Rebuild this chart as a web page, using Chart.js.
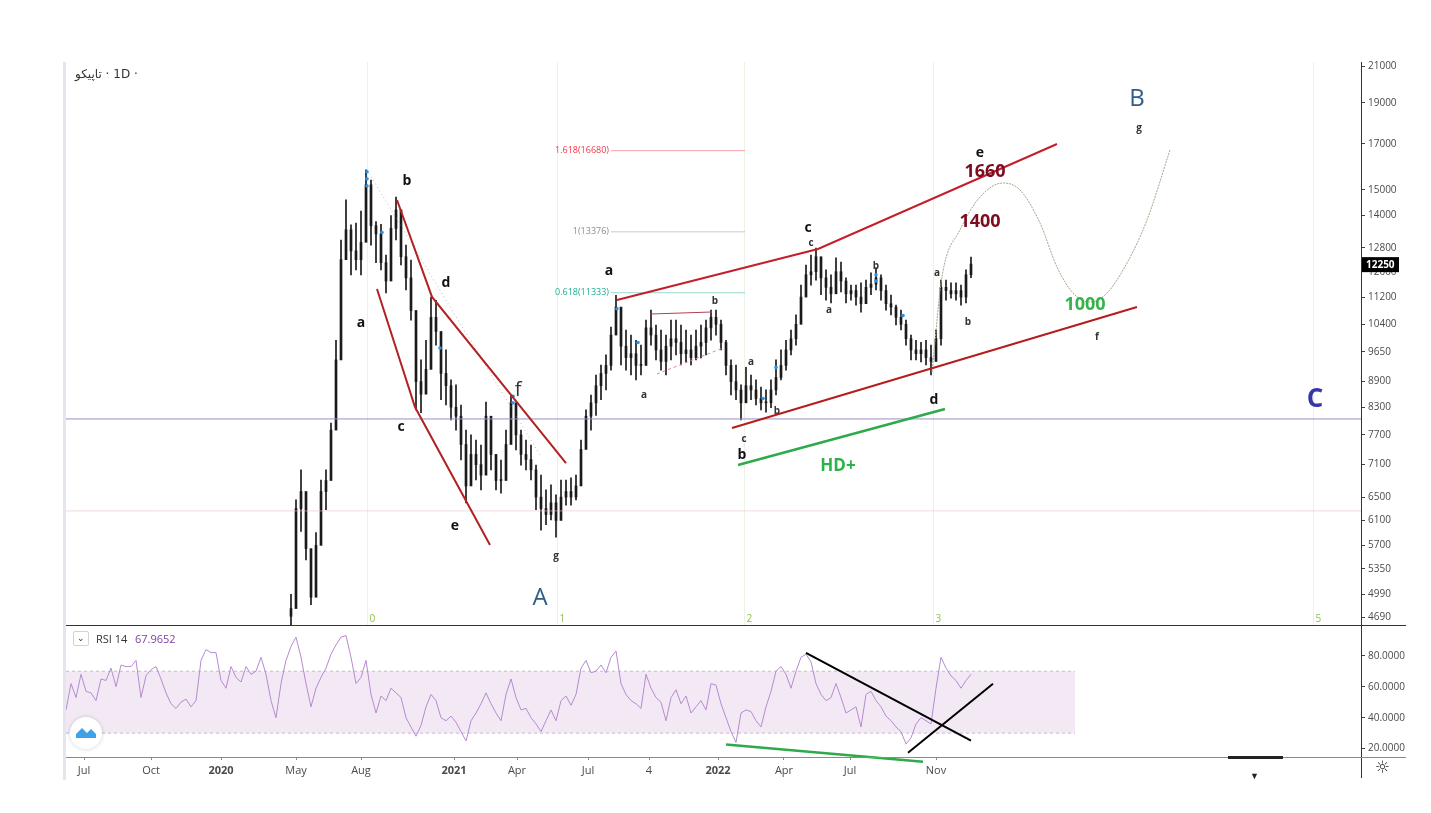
<!DOCTYPE html>
<html>
<head>
<meta charset="utf-8">
<script src="https://cdn.jsdelivr.net/npm/chart.js@4.4.1/dist/chart.umd.min.js"></script>
<style>
body { margin:0; background:#fff; width:1431px; height:813px; overflow:hidden; position:relative; font-family:"Open Sans", sans-serif; }
canvas { position:absolute; left:0; }
#main { top:0; }
#rsi { top:610px; }
.bar { position:absolute; }
.txt { position:absolute; white-space:nowrap; }
</style>
</head>
<body>
<canvas id="main" width="1431" height="640"></canvas>
<canvas id="rsi" width="1431" height="203"></canvas>

<div class="bar" style="left:63px;top:62px;width:3px;height:718px;background:#e3e6ec"></div>
<div class="bar" style="left:1361px;top:62px;width:1px;height:716px;background:#333"></div>
<div class="bar" style="left:66px;top:625px;width:1340px;height:1px;background:#333"></div>
<div class="bar" style="left:66px;top:757px;width:1340px;height:1px;background:#8a8a8a"></div>
<div class="bar" style="left:1228px;top:756px;width:55px;height:3px;background:#222"></div>
<div class="txt" style="left:1250px;top:769px;font-size:9px;color:#222">&#9660;</div>
<div class="txt" style="left:1375px;top:757px;font-size:17px;color:#333;font-family:'DejaVu Sans'">&#9788;</div>
<div class="txt" dir="ltr" style="left:75px;top:67px;font-size:12px;color:#333;font-family:'DejaVu Sans'"><bdi>تاپیکو</bdi>&lrm; · 1D ·</div>
<div class="txt" style="left:73px;top:631px;width:14px;height:13px;border:1px solid #d0d3da;border-radius:2px;font-size:9px;line-height:12px;text-align:center;color:#333">&#8964;</div>
<div class="txt" style="left:96px;top:631px;font-size:11px;color:#333">RSI 14</div>
<div class="txt" style="left:135px;top:631px;font-size:11px;color:#7b3fa0">67.9652</div>

<script>
// price axis ticks and time axis
var priceTicks = [4690, 4990, 5350, 5700, 6100, 6500, 7100, 7700, 8300, 8900, 9650, 10400, 11200, 12000, 12800, 14000, 15000, 17000, 19000, 21000];
var rsiTicks = [20, 40, 60, 80];
var timeTickSlots = [3.6, 17, 31, 46, 59, 77.6, 90.2, 104.4, 116.6, 130.4, 143.6, 156.8, 174];
var timeTickLabels = ['Jul', 'Oct', '2020', 'May', 'Aug', '2021', 'Apr', 'Jul', '4', '2022', 'Apr', 'Jul', 'Nov'];

// candles, one per slot starting at firstSlot
var firstSlot = 45;
var firstOpen = 4700;
var closes = [4800, 6300, 6600, 5650, 4950, 5700, 6600, 6800, 7800, 9440,
  12400, 13450, 12700, 12400, 13000, 15200, 13600, 13300, 12300, 11700,
  13500, 14200, 12500, 11800, 10800, 8900, 8600, 9200, 10600, 10200,
  9100, 8800, 8300, 8100, 7500, 6700, 7300, 7100, 6900, 8100,
  7300, 6800, 6800, 7500, 8400, 7700, 7300, 7200, 7000, 6500,
  6300, 6200, 6400, 6100, 6500, 6600, 6500, 6700, 7400, 8100,
  8400, 8800, 9100, 9300, 10100, 10900, 9800, 9500, 9600, 9300,
  9300, 10300, 10100, 9700, 9400, 9800, 10000, 9900, 9600, 9700,
  9500, 9800, 9900, 10300, 10600, 10400, 9900, 9300, 8900, 8700,
  8400, 8800, 8700, 8500, 8400, 8400, 8700, 9000, 9300, 9700,
  10000, 10400, 11200, 11900, 12000, 12500, 11800, 11500, 11300, 12000,
  11700, 11300, 11400, 11200, 11000, 11500, 11600, 11800, 11400, 11000,
  10900, 10600, 10400, 10000, 9700, 9600, 9700, 9500, 9400, 10000,
  11500, 11400, 11300, 11400, 11200, 11900, 12250];
var highs = [4990, 6450, 7000, 5870, 5250, 5900, 6810, 7000, 7950, 9960,
  13080, 14590, 13630, 13700, 14150, 15830, 15400, 13750, 13650, 12560,
  13980, 14700, 14150, 12900, 12390, 10240, 9440, 9960, 11200, 11100,
  9830, 9700, 8940, 8820, 8350, 7800, 7700, 7590, 7490, 8420,
  7800, 7290, 7190, 7800, 8560, 8240, 7800, 7590, 7490, 7090,
  6900, 6630, 6720, 6540, 6810, 6810, 6850, 6900, 7590, 8240,
  8580, 9060, 9310, 9570, 10320, 11250, 10520, 10240, 10100, 9960,
  9830, 10520, 10810, 10380, 10240, 10100, 10520, 10520, 10380, 10240,
  10100, 10240, 10380, 10520, 10810, 10810, 10520, 9960, 9440, 9310,
  8820, 9250, 9060, 8940, 8770, 8700, 8940, 9440, 9700, 9960,
  10240, 10670, 11570, 12220, 12560, 12800, 12320, 12060, 11900, 12460,
  12320, 11800, 11570, 11570, 11640, 11730, 11960, 12120, 11900, 11570,
  11260, 10960, 10810, 10520, 10100, 9960, 9900, 9960, 9830, 10240,
  11730, 11730, 11640, 11640, 11570, 12060, 12490];
var lows = [4590, 5480, 5920, 5480, 4850, 5190, 6150, 6280, 7390, 8470,
  11420, 12730, 11900, 12060, 11900, 13600, 12900, 12300, 12060, 11330,
  12390, 13080, 12220, 11420, 10520, 8240, 8180, 8700, 9700, 9830,
  8470, 8350, 8020, 7800, 7190, 6400, 6720, 6810, 6630, 7390,
  7000, 6630, 6570, 7000, 7590, 7390, 7090, 7000, 6810, 6280,
  5940, 6030, 6110, 5830, 6190, 6360, 6360, 6450, 6810, 7530,
  7800, 8120, 8470, 8700, 9180, 10300, 9310, 9180, 9060, 8940,
  9060, 9310, 9830, 9440, 9180, 9060, 9440, 9570, 9310, 9390,
  9310, 9440, 9490, 9570, 9960, 10100, 9700, 9060, 8580, 8470,
  8020, 8580, 8470, 8350, 8240, 8190, 8290, 8580, 8940, 9180,
  9570, 9830, 10520, 11270, 11570, 11730, 11270, 11110, 11020, 11420,
  11360, 11020, 11110, 10960, 10750, 11170, 11270, 11420, 11110, 10810,
  10670, 10380, 10240, 9830, 9440, 9440, 9390, 9310, 9060, 9440,
  9830, 11110, 11170, 11110, 10960, 11020, 11810];

// RSI 14, one value per slot from slot 0
var rsiValues = [45, 62, 53, 68, 57, 56, 51, 65, 64, 72,
  60, 74, 73, 73, 77, 53, 67, 71, 73, 65,
  56, 49, 46, 50, 52, 47, 51, 77, 84, 82,
  82, 64, 59, 73, 66, 63, 73, 68, 70, 79,
  68, 51, 40, 62, 77, 86, 92, 79, 62, 47,
  59, 66, 72, 81, 87, 92, 93, 79, 62, 66,
  77, 55, 43, 54, 51, 59, 56, 53, 40, 34,
  28, 35, 47, 55, 51, 40, 38, 41, 37, 31,
  25, 38, 43, 49, 56, 49, 43, 38, 55, 65,
  53, 45, 46, 40, 36, 31, 38, 45, 38, 51,
  54, 48, 55, 72, 77, 69, 70, 74, 69, 79,
  83, 62, 55, 51, 49, 46, 68, 59, 53, 50,
  38, 53, 58, 49, 54, 43, 47, 51, 45, 62,
  61, 49, 40, 31, 24, 43, 45, 44, 38, 34,
  47, 57, 70, 73, 68, 59, 70, 79, 81, 76,
  62, 55, 51, 53, 62, 53, 43, 45, 47, 34,
  55, 57, 51, 47, 41, 38, 34, 31, 23, 27,
  36, 40, 38, 36, 59, 79, 72, 67, 64, 59,
  64, 68];

// drawings on the price pane, [slot, price]
var lineCE = [[62.2, 11449], [69.8, 8305], [84.8, 5706]];
var lineBF = [[66.2, 14585], [73.2, 11204], [100, 7131]];
var channelTop = [[110.2, 11112], [150.4, 12766], [198.2, 16985]];
var channelBottom = [[133.2, 7844], [214.2, 10901]];
var hdLine = [[134.4, 7092], [175.8, 8260]];
var flatTop = [[116.8, 10695], [129.2, 10755]];
var flatBottom = [[118.2, 9085], [131.4, 9752]];
var peakPath = [[60.2, 15826], [94.8, 7289]];
var projection = [[173.2, 9135], [175.2, 11830], [178.8, 13442], [182.8, 14705], [187.4, 15275], [190.8, 14988],
  [194.8, 13700], [198.2, 12155], [201.4, 11326], [204.8, 11050], [208.2, 11326], [212.2, 12288], [216.2, 13813], [220.8, 16710]];
var levelPurple = 8040;
var levelFaint = 6260;
var fibLevels = [16680, 13376, 11333];
var fibNames = ['1.618(16680)', '1(13376)', '0.618(11333)'];
var fibColors = ['#f23645', '#8a8d96', '#22ab94'];
var fibStart = 109, fibEnd = 135.8;
var fibTimeSlots = [60.2, 98.2, 135.6, 173.4, 249.4];
var fibTimeLabels = ['0', '1', '2', '3', '5'];
var markers = [[60.2, 15750], [60.2, 15450], [60.2, 15150], [63.2, 13350], [74.8, 9750], [89.4, 8550], [89.4, 8400],
  [110.2, 10850], [114.4, 9900], [139.4, 8500], [142, 9250], [162, 11900], [162, 11700], [167.4, 10650]];

// wave labels: text, slot, price, style
var waveLabels = [
  ['b', 68.2, 15359, 'big'], ['a', 59, 10437, 'big'], ['d', 76, 11638, 'big'], ['c', 67, 7865, 'big'],
  ['e', 77.8, 6008, 'big'], ['f', 90.4, 8698, 'f'], ['g', 98, 5538, 'small'], ['A', 94.8, 4940, 'A'],
  ['a', 108.6, 12023, 'big'], ['a', 115.6, 8581, 'small'], ['b', 129.8, 11081, 'small'],
  ['c', 148.4, 13516, 'big'], ['c', 149, 12976, 'small'], ['a', 152.6, 10814, 'small'],
  ['b', 162, 12187, 'small'], ['a', 174.2, 11958, 'small'], ['b', 180.4, 10467, 'small'],
  ['b', 135.2, 7289, 'big'], ['c', 135.6, 7612, 'small'], ['a', 137, 9387, 'small'], ['b', 142.2, 8215, 'small'],
  ['d', 173.6, 8465, 'big'], ['e', 182.8, 16573, 'big'], ['1660', 183.8, 15739, 'red'], ['1400', 182.8, 13739, 'red'],
  ['1000', 203.8, 10962, 'green'], ['f', 206.2, 10049, 'small'], ['g', 214.6, 17741, 'small'],
  ['B', 214.2, 19197, 'A'], ['C', 249.8, 8465, 'C'], ['HD+', 154.4, 7073, 'hd']
];
var labelStyles = {
  big: ['bold 14px "Open Sans"', '#111'],
  small: ['bold 10px "Open Sans"', '#333'],
  f: ['20px "Open Sans"', '#333'],
  A: ['24px "Open Sans"', '#2f5d8a'],
  C: ['bold 26px "Open Sans"', '#3636a8'],
  red: ['bold 18px "Open Sans"', '#7d0c1f'],
  green: ['bold 18px "Open Sans"', '#35b34a'],
  hd: ['bold 17px "Open Sans"', '#2eb14a']
};

// rsi pane drawings, [slot, rsi]
var rsiDown = [[148, 81.9], [181, 25.2]];
var rsiUp = [[168.4, 17.4], [185.4, 61.9]];
var rsiDiv = [[132, 22.6], [171.4, 11.6]];
var bandEnd = 201.8;

function pts(arr) {
  return arr.map(function(p) { return {x: p[0], y: p[1]}; });
}

function seg(arr, color, width, dash, extra) {
  var ds = {
    type: 'line', data: pts(arr), borderColor: color, borderWidth: width,
    borderDash: dash || [], pointRadius: 0, fill: false, tension: 0
  };
  for (var k in extra || {}) ds[k] = extra[k];
  return ds;
}

var wicks = [], bodies = [];
for (var i = 0; i < closes.length; i++) {
  var open = i === 0 ? firstOpen : closes[i - 1];
  wicks.push({x: firstSlot + i, y: [lows[i], highs[i]]});
  bodies.push({x: firstSlot + i, y: [open, closes[i]]});
}

var fibDatasets = fibLevels.map(function(v, i) {
  return seg([[fibStart, v], [fibEnd, v]], fibColors[i] + '77', 1);
});

var pricePlugin = {
  id: 'priceDrawings',
  beforeDatasetsDraw: function(chart) {
    var ctx = chart.ctx, xs = chart.scales.x, a = chart.chartArea;
    ctx.save();
    ctx.strokeStyle = 'rgba(170,195,140,0.22)';
    ctx.lineWidth = 1;
    ctx.font = '10px "Open Sans"';
    ctx.fillStyle = '#8bc34a';
    ctx.textBaseline = 'middle';
    fibTimeSlots.forEach(function(s, i) {
      var px = Math.round(xs.getPixelForValue(s)) + 0.5;
      ctx.beginPath(); ctx.moveTo(px, a.top); ctx.lineTo(px, a.bottom); ctx.stroke();
      ctx.fillText(fibTimeLabels[i], px + 2, a.bottom - 6);
    });
    ctx.restore();
  },
  afterDatasetsDraw: function(chart) {
    var ctx = chart.ctx, xs = chart.scales.x, ys = chart.scales.y;
    ctx.save();
    ctx.textBaseline = 'middle';
    ctx.textAlign = 'right';
    ctx.font = '9px "Open Sans"';
    fibLevels.forEach(function(v, i) {
      ctx.fillStyle = fibColors[i];
      ctx.fillText(fibNames[i], xs.getPixelForValue(fibStart) - 2, ys.getPixelForValue(v));
    });
    ctx.textAlign = 'center';
    waveLabels.forEach(function(l) {
      var st = labelStyles[l[3]];
      ctx.font = st[0];
      ctx.fillStyle = st[1];
      ctx.fillText(l[0], xs.getPixelForValue(l[1]), ys.getPixelForValue(l[2]));
    });
    ctx.restore();
  },
  afterDraw: function(chart) {
    var ctx = chart.ctx, ys = chart.scales.y, a = chart.chartArea;
    var last = closes[closes.length - 1];
    var py = ys.getPixelForValue(last);
    ctx.save();
    ctx.fillStyle = '#000';
    ctx.fillRect(a.right + 1, py - 7, 37, 15);
    ctx.fillStyle = '#fff';
    ctx.font = 'bold 10px "Open Sans"';
    ctx.textBaseline = 'middle';
    ctx.textAlign = 'left';
    ctx.fillText(String(last), a.right + 5, py + 1);
    ctx.restore();
  }
};

new Chart(document.getElementById('main'), {
  type: 'line',
  data: {
    datasets: [
      seg(lineCE, '#b22222', 2),
      seg(lineBF, '#b22222', 2),
      seg(channelTop, '#c41e2a', 2),
      seg(channelBottom, '#b71c1c', 2),
      seg(hdLine, '#2eaa4a', 2.5),
      seg(flatTop, '#b04050', 1),
      seg(flatBottom, '#e08090', 1, [3, 3]),
      seg(peakPath, 'rgba(140,140,140,0.6)', 1, [1, 3]),
      seg(projection, '#a4a48a', 1, [2, 1], {cubicInterpolationMode: 'monotone'}),
      seg([[0, levelPurple], [259, levelPurple]], '#9a8fc4', 1),
      seg([[0, levelFaint], [259, levelFaint]], 'rgba(225,195,200,0.6)', 1),
      fibDatasets[0], fibDatasets[1], fibDatasets[2],
      {type: 'scatter', data: pts(markers), pointRadius: 1.8, pointBackgroundColor: '#2196f3', pointBorderWidth: 0, showLine: false},
      {type: 'bar', data: bodies, backgroundColor: '#1a1a1a', barThickness: 2, grouped: false, minBarLength: 1},
      {type: 'bar', data: wicks, backgroundColor: '#1a1a1a', barThickness: 1, grouped: false}
    ]
  },
  options: {
    responsive: false,
    animation: false,
    layout: {padding: {left: 66, top: 62, right: 0, bottom: 15}},
    plugins: {legend: {display: false}, tooltip: {enabled: false}},
    scales: {
      x: {type: 'linear', min: 0, max: 259, display: false, offset: false},
      y: {
        type: 'logarithmic', position: 'right', min: 4590, max: 21230,
        afterBuildTicks: function(s) { s.ticks = priceTicks.map(function(v) { return {value: v}; }); },
        afterFit: function(s) { s.width = 70; },
        grid: {drawOnChartArea: false, drawTicks: true, tickLength: 4, color: '#444'},
        border: {display: false},
        ticks: {autoSkip: false, color: '#4a4a4a', padding: 3, font: {size: 10, family: 'Open Sans'},
          callback: function(v) { return String(v); }}
      }
    }
  },
  plugins: [pricePlugin]
});

var logoPlugin = {
  id: 'logo',
  afterDraw: function(chart) {
    var ctx = chart.ctx;
    var cx = 86, cy = 733 - 610;
    ctx.save();
    ctx.beginPath();
    ctx.arc(cx, cy, 16, 0, Math.PI * 2);
    ctx.fillStyle = '#fff';
    ctx.shadowColor = 'rgba(0,0,0,0.18)';
    ctx.shadowBlur = 4;
    ctx.fill();
    ctx.shadowBlur = 0;
    ctx.beginPath();
    ctx.moveTo(cx - 10, cy + 5);
    ctx.lineTo(cx - 10, cy + 1);
    ctx.lineTo(cx - 4, cy - 5);
    ctx.lineTo(cx + 1, cy);
    ctx.lineTo(cx + 5, cy - 4);
    ctx.lineTo(cx + 10, cy + 1);
    ctx.lineTo(cx + 10, cy + 5);
    ctx.closePath();
    ctx.fillStyle = '#3fa1e8';
    ctx.fill();
    ctx.restore();
  }
};

new Chart(document.getElementById('rsi'), {
  type: 'line',
  data: {
    datasets: [
      seg(rsiDown, '#000', 2),
      seg(rsiUp, '#000', 2),
      seg(rsiDiv, '#2eaa4a', 2.5, [], {clip: false}),
      {type: 'line', data: rsiValues.map(function(v, i) { return {x: i, y: v}; }),
        borderColor: '#b58ad0', borderWidth: 1, pointRadius: 0, fill: false, tension: 0},
      seg([[0, 70], [bandEnd, 70]], 'rgba(150,130,160,0.5)', 1, [3, 3]),
      seg([[0, 30], [bandEnd, 30]], 'rgba(150,130,160,0.5)', 1, [3, 3], {fill: '-1', backgroundColor: 'rgba(190,135,200,0.18)'})
    ]
  },
  options: {
    responsive: false,
    animation: false,
    layout: {padding: {left: 66, top: 18, right: 0, bottom: 26}},
    plugins: {legend: {display: false}, tooltip: {enabled: false}},
    scales: {
      x: {
        type: 'linear', min: 0, max: 259, offset: false,
        afterBuildTicks: function(s) { s.ticks = timeTickSlots.map(function(v) { return {value: v}; }); },
        afterFit: function(s) { s.height = 30; },
        grid: {drawOnChartArea: false, drawTicks: true, tickLength: 3, color: '#888'},
        border: {display: false},
        ticks: {autoSkip: false, maxRotation: 0, color: '#4a4a4a', padding: 4,
          font: function(c) { return {size: 11, family: 'Open Sans', weight: /^\d{4}$/.test(timeTickLabels[c.index]) ? 'bold' : 'normal'}; },
          callback: function(v, i) { return timeTickLabels[i]; }}
      },
      y: {
        type: 'linear', position: 'right', min: 14.6, max: 97.9,
        afterBuildTicks: function(s) { s.ticks = rsiTicks.map(function(v) { return {value: v}; }); },
        afterFit: function(s) { s.width = 70; },
        grid: {drawOnChartArea: false, drawTicks: true, tickLength: 4, color: '#444'},
        border: {display: false},
        ticks: {autoSkip: false, color: '#4a4a4a', padding: 3, font: {size: 10, family: 'Open Sans'},
          callback: function(v) { return Number(v).toFixed(4); }}
      }
    }
  },
  plugins: [logoPlugin]
});
</script>
</body>
</html>
